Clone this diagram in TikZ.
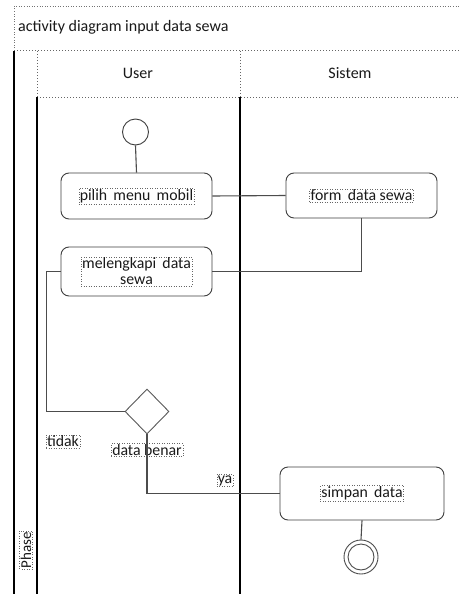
\documentclass[tikz,border=0pt]{standalone}
\usepackage{fontspec}
\setmainfont{Carlito}
\usetikzlibrary{shapes.geometric}
\tikzset{
  lane/.style={black, line width=1.1pt},
  hdr/.style={black!60, line width=1pt, dotted},
  act/.style={draw=black!75, line width=0.9pt, rounded corners=8pt, rectangle, minimum width=151pt, minimum height=46pt, inner sep=0pt},
  conn/.style={draw=black!70, line width=1.1pt},
  txt/.style={draw=black!60, dotted, line width=0.5pt, inner sep=1pt, font=\fontsize{15.8}{16}\selectfont, text=black!90},
  plain/.style={font=\fontsize{16}{18}\selectfont, text=black!90, inner sep=0pt}
}
\begin{document}
\begin{tikzpicture}[x=1pt,y=-1pt]
\useasboundingbox (0,0) rectangle (459,594);
\fill[white] (0,0) rectangle (459,594);
% title frame
\draw[black!55, dotted, line width=0.6pt] (14,594) -- (14,6) -- (460,6);
\node[plain, anchor=west] (title) at (18,27) {activity diagram input data sewa};
% header
\draw[hdr] (14,51) -- (460,51);
\draw[hdr] (37,51) -- (37,97);
\draw[hdr] (240,51) -- (240,97);
\draw[hdr] (37,97) -- (460,97);
\node[plain] (huser) at (138,73) {User};
\node[plain] (hsis) at (350,73) {Sistem};
% lanes
\draw[lane] (14,51) -- (14,594);
\draw[lane] (37,97) -- (37,594);
\draw[lane] (240,97) -- (240,594);
% phase
\node[txt, rotate=90, font=\fontsize{15}{16}\selectfont] (phase) at (26,550) {Phase};
% nodes
\node[circle, draw=black!75, line width=0.9pt, minimum size=26pt, inner sep=0pt] (init) at (135.5,132) {};
\node[act] (pilih) at (136.5,196) {};
\node[txt] (tpilih) at (pilih) {pilih\, menu\, mobil};
\node[act, minimum height=45pt] (form) at (361.5,195.5) {};
\node[txt] (tform) at (form) {form\, data sewa};
\node[act, minimum height=49pt] (mel) at (136.5,271.5) {};
\node[txt, align=center] (tmel) at (mel) {melengkapi\, data\\sewa};
\node[diamond, draw=black!65, line width=0.9pt, minimum width=44pt, minimum height=45pt, inner sep=0pt] (dec) at (147,411.5) {};
\node[act, minimum width=164pt, minimum height=53pt] (simpan) at (362,493.5) {};
\node[txt] (tsimpan) at (simpan) {simpan\, data};
\node[circle, draw=black!70, line width=0.9pt, minimum size=34pt, inner sep=0pt] (final) at (361,557) {};
\node[circle, draw=black!70, line width=0.9pt, minimum size=26pt, inner sep=0pt] (finalin) at (final) {};
% labels
\node[txt] (ltidak) at (63,441.5) {tidak};
\node[txt] (lbenar) at (147,450) {data benar};
\node[txt] (lya) at (225,480.5) {ya};
% connectors
\draw[conn] (init.south) -- (pilih.north);
\draw[conn] (pilih.east) -- (form.west);
\draw[conn] (form.south) |- (mel.east);
\draw[conn] (mel.west) -- ++(-14,0) |- (dec.west);
\draw[conn] (dec.south) |- (simpan.west);
\draw[conn] (simpan.south) -- (final.north);
\end{tikzpicture}
\end{document}
